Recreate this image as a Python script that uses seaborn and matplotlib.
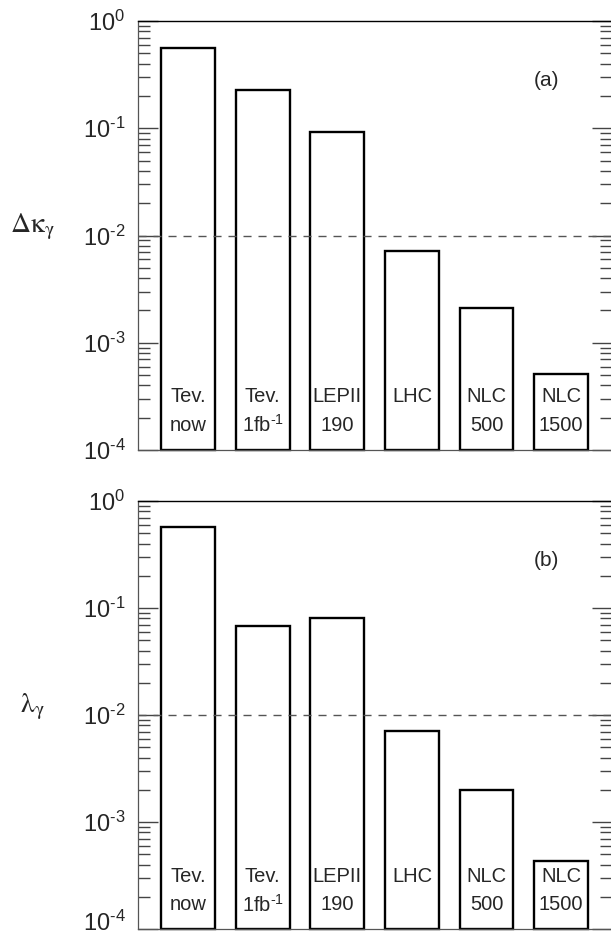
import matplotlib
matplotlib.use("Agg")
import matplotlib.pyplot as plt
import matplotlib.transforms as mtransforms
import numpy as np
import pandas as pd
import seaborn as sns
from matplotlib.ticker import LogLocator, FuncFormatter, NullFormatter

# Experiments / machines compared
experiments = ["Tev. now", "Tev. 1fb-1", "LEPII 190", "LHC", "NLC 500", "NLC 1500"]
label_top = ["Tev.", "Tev.", "LEPII", "LHC", "NLC", "NLC"]
label_bottom = ["now", r"1fb$^{\text{-}1}$", "190", "", "500", "1500"]

# Sensitivity limits on the anomalous couplings
delta_kappa = [0.56, 0.227, 0.092, 0.0072, 0.0021, 0.00051]
lambda_gamma = [0.57, 0.068, 0.081, 0.0071, 0.00198, 0.00043]

y_floor = 1e-4
y_ceiling = 1.0
reference_level = 1e-2

sns.set_style("white")
plt.rcParams.update({
    "font.family": ["Liberation Sans", "DejaVu Sans"],
    "mathtext.fontset": "custom",
    "mathtext.rm": "Liberation Sans",
    "mathtext.it": "Liberation Sans:italic",
    "mathtext.bf": "Liberation Sans:bold",
})

W, H = 611, 939
fig = plt.figure(figsize=(W / 100, H / 100), dpi=100)


def axes_px(left, top, right, bottom):
    return fig.add_axes([left / W, 1 - bottom / H, (right - left) / W, (bottom - top) / H])


def power_label(v, pos):
    e = int(round(np.log10(v)))
    if e < 0:
        return r"$10^{\text{-}%d}$" % (-e)
    return r"$10^{%d}$" % e


def draw_panel(ax, values, tag, ylabel):
    df = pd.DataFrame({"experiment": experiments, "limit": values})
    ax.set_yscale("log")
    sns.barplot(data=df, x="experiment", y="limit", ax=ax, color="white",
                edgecolor="black", linewidth=1.7, width=0.72, saturation=1,
                errorbar=None)
    # bars rest on the bottom of the log axis
    for rect, v in zip(ax.patches, values):
        rect.set_y(y_floor)
        rect.set_height(v - y_floor)
        rect.set_facecolor("white")
        rect.set_clip_on(False)
        rect.set_zorder(2)

    ax.set_ylim(y_floor, y_ceiling)
    ax.set_xlim(-0.67, 5.68)
    ax.axhline(reference_level, color="#555555", lw=1.0, ls=(0, (5.8, 5.0)), zorder=5)

    ax.yaxis.set_major_locator(LogLocator(base=10, numticks=10))
    ax.yaxis.set_minor_locator(LogLocator(base=10, subs=np.arange(2, 10), numticks=20))
    ax.yaxis.set_major_formatter(FuncFormatter(power_label))
    ax.yaxis.set_minor_formatter(NullFormatter())
    ax.tick_params(axis="y", which="both", direction="in", left=True, right=True,
                   color="#444444", width=1.0, labelsize=17, pad=9)
    ax.tick_params(axis="y", which="major", length=14.5)
    ax.tick_params(axis="y", which="minor", length=8.5)
    ax.tick_params(axis="x", which="both", bottom=False, top=False, labelbottom=False)
    ax.set_xlabel("")
    ax.set_ylabel("")

    for side in ["left", "bottom"]:
        ax.spines[side].set_color("#555555")
        ax.spines[side].set_linewidth(0.9)
    ax.spines["top"].set_color("black")
    ax.spines["top"].set_linewidth(1.0)
    ax.spines["right"].set_visible(False)

    for i, (t, b) in enumerate(zip(label_top, label_bottom)):
        ax.text(i, 10 ** -3.505, t, ha="center", va="center", fontsize=14.5, zorder=6)
        if b:
            ax.text(i, 10 ** -3.77, b, ha="center", va="center", fontsize=14.5, zorder=6)

    ax.text(0.862, 0.862, tag, transform=ax.transAxes, ha="center", va="center",
            fontsize=15)
    ax.text(-0.222, 0.52, ylabel, transform=ax.transAxes, ha="center", va="center",
            fontsize=20, math_fontfamily="stix")


ax_a = axes_px(138, 21, 612, 450)
ax_b = axes_px(138, 501, 612, 929)

draw_panel(ax_a, delta_kappa, "(a)", r"$\mathrm{\Delta\kappa_{\gamma}}$")
draw_panel(ax_b, lambda_gamma, "(b)", r"$\mathrm{\lambda_{\gamma}}$")

# lift the lowest label of the lower panel so it stays inside the figure
fig.canvas.draw()
for tick in ax_b.yaxis.get_major_ticks():
    if np.isclose(tick.get_loc(), y_floor):
        lbl = tick.label1
        lbl.set_transform(lbl.get_transform()
                          + mtransforms.ScaledTranslation(0, 6 / 72, fig.dpi_scale_trans))

fig.savefig("out.png", dpi=100)
